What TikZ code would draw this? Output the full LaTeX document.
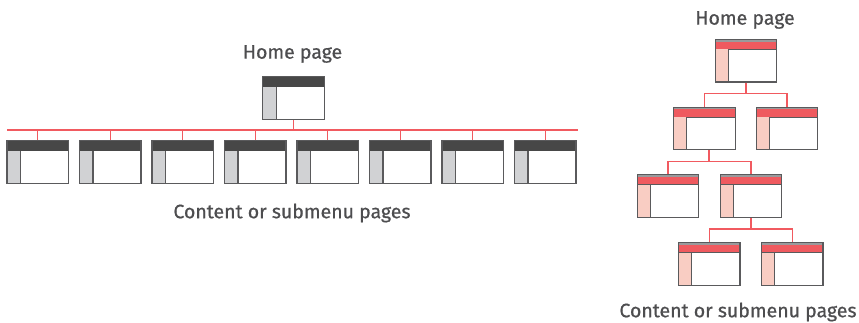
\documentclass[tikz,border=0pt]{standalone}
\usepackage{fontspec}
\setmainfont{Fira Sans}
\newfontfamily\lblfont{Fira Sans}[FakeBold=0.7]
\definecolor{bord}{HTML}{5A5A5C}
\definecolor{darkhdr}{HTML}{474747}
\definecolor{graySide}{HTML}{D1D2D4}
\definecolor{redHdr}{HTML}{EF5A5F}
\definecolor{pinkSide}{HTML}{F9CDC3}
\definecolor{stripGray}{HTML}{9A9A9C}
\definecolor{conn}{HTML}{F15A60}
\definecolor{txt}{HTML}{4D4D4F}
\tikzset{
  pagebox/.style={draw=bord, line width=1.1pt, fill=white, inner sep=0pt,
    minimum width=61.5pt, minimum height=42.5pt},
  graypage/.style={pagebox, path picture={
    \fill[darkhdr] (path picture bounding box.north west) rectangle ([yshift=-10pt]path picture bounding box.north east);
    \fill[graySide] ([yshift=-10pt]path picture bounding box.north west) rectangle ([xshift=13.5pt]path picture bounding box.south west);
    \draw[bord, line width=1.1pt] ([xshift=13.5pt,yshift=-10pt]path picture bounding box.north west) -- ([xshift=13.5pt]path picture bounding box.south west);
  }},
  redpage/.style={pagebox, path picture={
    \fill[stripGray] (path picture bounding box.north west) rectangle ([yshift=-2.3pt]path picture bounding box.north east);
    \fill[redHdr] ([yshift=-2.3pt]path picture bounding box.north west) rectangle ([yshift=-10pt]path picture bounding box.north east);
    \draw[bord, line width=0.8pt] ([yshift=-10pt]path picture bounding box.north west) -- ([yshift=-10pt]path picture bounding box.north east);
    \fill[pinkSide] ([yshift=-10pt]path picture bounding box.north west) rectangle ([xshift=13pt]path picture bounding box.south west);
    \draw[bord, line width=1.1pt] ([xshift=13pt,yshift=-10pt]path picture bounding box.north west) -- ([xshift=13pt]path picture bounding box.south west);
  }},
  link/.style={draw=conn, line width=1.1pt},
  lbl/.style={text=txt, font=\lblfont\fontsize{19.5}{22}\selectfont, inner sep=0pt},
}
\begin{document}
\begin{tikzpicture}[x=1pt,y=-1pt]
\useasboundingbox (0,0) rectangle (859,322);
% ---- left: flat structure ----
\node[lbl] (homeL) at (292.5,54) {Home page};
\node[graypage] (rootL) at (293.5,98) {};
\coordinate (busLa) at (7,130);
\coordinate (busLb) at (578,130);
\foreach \i in {0,...,7} {
  \node[graypage] (c\i) at ({37.75+72.5*\i},162) {};
}
\node[lbl] (contL) at (292,213) {Content or submenu pages};
\draw[link] (busLa) -- (busLb);
\draw[link] (rootL.south) -- (rootL.south |- busLa);
\foreach \i in {0,...,7} {
  \draw[link] (c\i.north) -- (c\i.north |- busLa);
}
% ---- right: deep structure ----
\node[lbl] (homeR) at (745,20) {Home page};
\node[redpage] (r0) at (746,60.7) {};
\node[redpage] (r1) at (704.3,128.3) {};
\node[redpage] (r2) at (787,128.3) {};
\node[redpage] (r3) at (668,196) {};
\node[redpage] (r4) at (751,196) {};
\node[redpage] (r5) at (709.2,264) {};
\node[redpage] (r6) at (792.2,264) {};
\node[lbl] (contR) at (738,312) {Content or submenu pages};
\coordinate (b1) at (746,93.3);
\coordinate (b2) at (709,161.7);
\coordinate (b3) at (751,229);
\draw[link] (r0.south) -- (b1);
\draw[link] (r1.north) -- (r1.north |- b1) -- (r2.north |- b1) -- (r2.north);
\draw[link] ([xshift=4.7pt]r1.south) -- (b2);
\draw[link] (r3.north) -- (r3.north |- b2) -- (r4.north |- b2) -- (r4.north);
\draw[link] (r4.south) -- (b3);
\draw[link] (r5.north) -- (r5.north |- b3) -- (r6.north |- b3) -- (r6.north);
\end{tikzpicture}
\end{document}
